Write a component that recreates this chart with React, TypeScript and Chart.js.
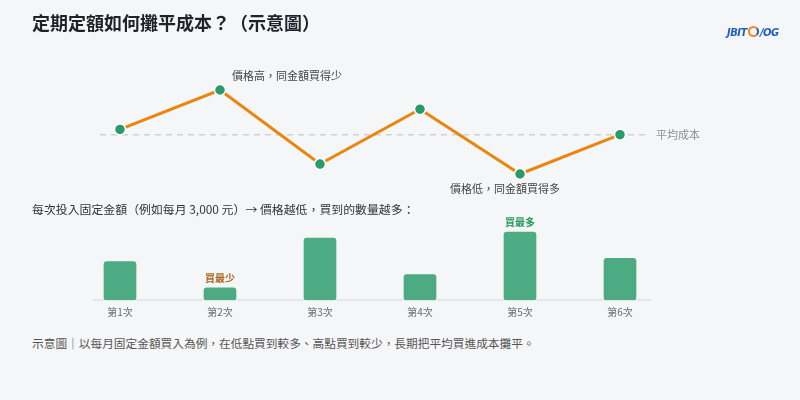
import React, { useEffect, useRef } from "react";
import { Chart, registerables } from "chart.js";

Chart.register(...registerables);

const categories = ["第1次", "第2次", "第3次", "第4次", "第5次", "第6次"];
const prices = [105, 120, 91.8, 112.7, 88, 103];
const avgCost = 103;
const units = [38, 12, 61, 25, 67, 41];
const highNote = "價格高，同金額買得少";
const lowNote = "價格低，同金額買得多";
const avgLabel = "平均成本";
const leastLabel = "買最少";
const mostLabel = "買最多";
const titleText = "定期定額如何攤平成本？（示意圖）";
const subText = "每次投入固定金額（例如每月 3,000 元）→ 價格越低，買到的數量越多：";
const captionText = "示意圖｜以每月固定金額買入為例，在低點買到較多、高點買到較少，長期把平均買進成本攤平。";

const FONT = '"Noto Sans CJK TC", "Noto Sans", sans-serif';
const BG = "#f5f6f8";

export default function App() {
  const lineRef = useRef<HTMLCanvasElement | null>(null);
  const barRef = useRef<HTMLCanvasElement | null>(null);

  useEffect(() => {
    document.body.style.margin = "0";
    document.body.style.background = BG;

    const linePlugin = {
      id: "lineNotes",
      beforeDatasetsDraw(chart: any) {
        const { ctx, chartArea, scales } = chart;
        const y = scales.y.getPixelForValue(avgCost);
        ctx.save();
        ctx.strokeStyle = "#cdd2d9";
        ctx.lineWidth = 1.5;
        ctx.setLineDash([6, 5]);
        ctx.beginPath();
        ctx.moveTo(chartArea.left, y);
        ctx.lineTo(chartArea.right, y);
        ctx.stroke();
        ctx.restore();
      },
      afterDatasetsDraw(chart: any) {
        const { ctx, chartArea, scales } = chart;
        const meta = chart.getDatasetMeta(0);
        const hi = meta.data[1];
        const lo = meta.data[4];
        ctx.save();
        ctx.font = `11px ${FONT}`;
        ctx.fillStyle = "#444";
        ctx.textBaseline = "middle";
        ctx.textAlign = "left";
        ctx.fillText(highNote, hi.x + 12, hi.y - 14);
        ctx.textAlign = "right";
        ctx.fillText(lowNote, lo.x + 40, lo.y + 15);
        ctx.textAlign = "left";
        ctx.fillStyle = "#8a8f96";
        ctx.fillText(avgLabel, chartArea.right + 6, scales.y.getPixelForValue(avgCost));
        ctx.restore();
      },
    };

    const line = new Chart(lineRef.current as HTMLCanvasElement, {
      type: "line",
      data: {
        datasets: [
          {
            data: prices.map((v, i) => ({ x: i + 1, y: v })),
            borderColor: "#e8870f",
            borderWidth: 3,
            pointBackgroundColor: "#2a9a68",
            pointBorderColor: "#ffffff",
            pointBorderWidth: 1.5,
            pointRadius: 5.5,
            tension: 0,
          },
        ],
      },
      options: {
        responsive: false,
        animation: false,
        layout: { autoPadding: false, padding: { left: 100, right: 150, top: 69, bottom: 5 } },
        plugins: { legend: { display: false }, tooltip: { enabled: false } },
        scales: {
          x: { type: "linear", min: 0.8, max: 6.3, display: false },
          y: { type: "linear", min: 80, max: 128, display: false },
        },
      },
      plugins: [linePlugin],
    });

    const barPlugin = {
      id: "barNotes",
      afterDatasetsDraw(chart: any) {
        const { ctx } = chart;
        const meta = chart.getDatasetMeta(0);
        const least = meta.data[1];
        const most = meta.data[4];
        ctx.save();
        ctx.font = `bold 10px ${FONT}`;
        ctx.textAlign = "center";
        ctx.textBaseline = "middle";
        ctx.fillStyle = "#a8661c";
        ctx.fillText(leastLabel, least.x, least.y - 10);
        ctx.fillStyle = "#27995a";
        ctx.fillText(mostLabel, most.x, most.y - 10);
        ctx.restore();
      },
    };

    const bar = new Chart(barRef.current as HTMLCanvasElement, {
      type: "bar",
      data: {
        datasets: [
          {
            data: units.map((v, i) => ({ x: i + 1, y: v })),
            backgroundColor: "#4cab82",
            borderRadius: 3,
            borderSkipped: false,
            barThickness: 32,
          },
        ],
      },
      options: {
        responsive: false,
        animation: false,
        layout: { padding: { left: 94, right: 150, top: 29, bottom: 6 } },
        plugins: { legend: { display: false }, tooltip: { enabled: false } },
        scales: {
          x: {
            type: "linear",
            min: 0.74,
            max: 6.3,
            offset: false,
            grid: { display: false, drawTicks: false },
            border: { display: true, color: "#e4e7eb", width: 2 },
            afterBuildTicks: (axis: any) => {
              axis.ticks = categories.map((_, i) => ({ value: i + 1 }));
            },
            ticks: {
              padding: 6,
              color: "#666b72",
              font: { size: 10, family: FONT },
              callback: (v: any) => categories[Number(v) - 1] ?? "",
            },
          },
          y: { min: 0, max: 70, display: false },
        },
      },
      plugins: [barPlugin],
    });

    return () => {
      line.destroy();
      bar.destroy();
    };
  }, []);

  return (
    <div
      style={{
        position: "fixed",
        left: 0,
        top: 0,
        width: 800,
        height: 400,
        background: BG,
        fontFamily: FONT,
        overflow: "hidden",
      }}
    >
      <canvas ref={lineRef} width={800} height={200} style={{ position: "absolute", left: 0, top: 0, width: 800, height: 200 }} />
      <canvas ref={barRef} width={800} height={130} style={{ position: "absolute", left: 0, top: 200, width: 800, height: 130 }} />
      <div style={{ position: "absolute", left: 32, top: 9, fontSize: 18, fontWeight: 700, color: "#1f2329", whiteSpace: "nowrap" }}>
        {titleText}
      </div>
      <div style={{ position: "absolute", left: 727, top: 26, fontSize: 10, fontWeight: 800, fontStyle: "italic", color: "#1f5fb8", whiteSpace: "nowrap", letterSpacing: -0.5, fontFamily: '"DejaVu Sans", sans-serif' }}>
        JBIT
        <span style={{ display: "inline-block", width: 7, height: 7, borderRadius: "50%", border: "2px solid #f08a1c", borderRightColor: "#1f5fb8", margin: "0 1px", verticalAlign: "-1px" }} />
        /OG
      </div>
      <div style={{ position: "absolute", left: 32, top: 200, fontSize: 11.9, color: "#333", whiteSpace: "nowrap" }}>{subText}</div>
      <div style={{ position: "absolute", left: 32, top: 334, fontSize: 11.7, color: "#555", whiteSpace: "nowrap" }}>{captionText}</div>
    </div>
  );
}
